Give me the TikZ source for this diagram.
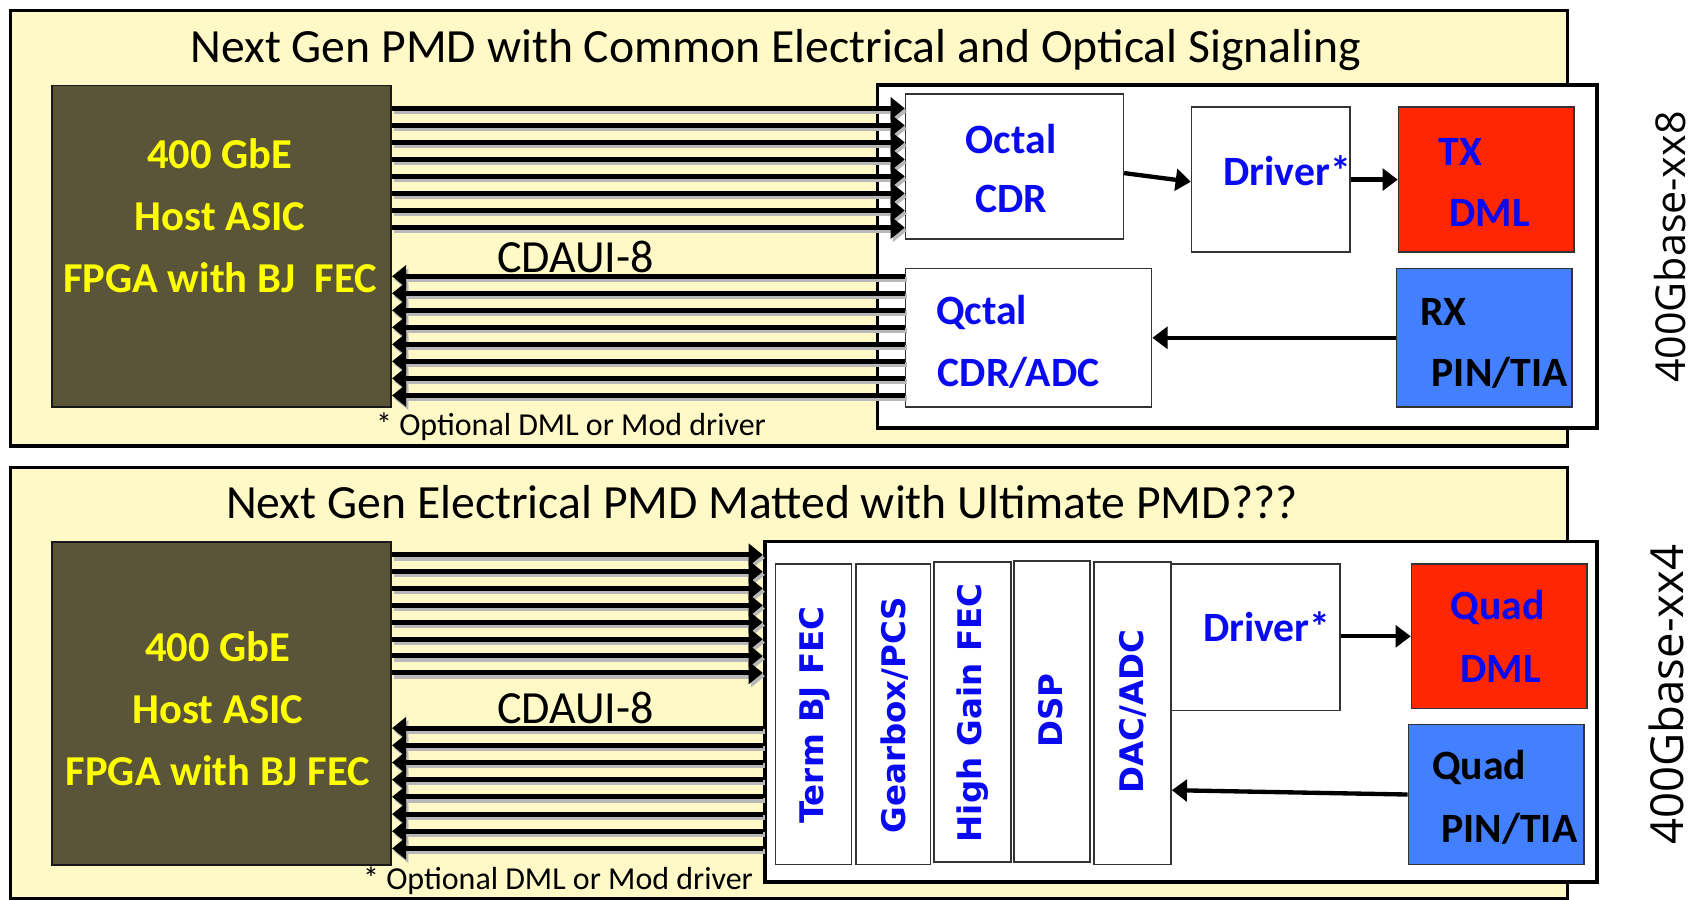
\documentclass[tikz,border=0pt]{standalone}
\usepackage{fontspec}
\setmainfont{Carlito}
\newfontfamily\osans{Open Sans}
\newfontfamily\dvs{DejaVu Sans}
\usetikzlibrary{arrows.meta,calc}
\definecolor{panelyellow}{RGB}{255,249,199}
\definecolor{hostolive}{RGB}{90,85,56}
\definecolor{txred}{RGB}{255,38,0}
\definecolor{rxblue}{RGB}{66,128,255}
\definecolor{txtblue}{RGB}{10,10,240}
\definecolor{txtyellow}{RGB}{255,255,0}
\tikzset{
 panel/.style={draw=black, line width=3pt, fill=panelyellow, anchor=north west, inner sep=0pt},
 hostbox/.style={draw=black!90, line width=1.8pt, fill=hostolive, anchor=north west, inner sep=0pt},
 pmdbox/.style={draw=black, line width=3.5pt, fill=white, anchor=north west, inner sep=0pt},
 blk/.style={draw=black!80, line width=1.5pt, fill=white, anchor=north west, inner sep=0pt},
 redblk/.style={blk, fill=txred},
 blueblk/.style={blk, fill=rxblue},
 titletxt/.style={font=\fontsize{44}{50}\selectfont, inner sep=0pt},
 plaintxt/.style={font=\fontsize{42.5}{48}\selectfont, inner sep=0pt},
 notetxt/.style={font=\fontsize{29.5}{32}\selectfont, inner sep=0pt},
 hosttxt/.style={text=txtyellow, font=\bfseries\fontsize{39.3}{57}\selectfont, align=center, inner sep=0pt},
 btxt/.style={text=txtblue, font=\bfseries\fontsize{38.5}{44}\selectfont, inner sep=0pt},
 ktxt/.style={text=black, font=\bfseries\fontsize{38.5}{44}\selectfont, inner sep=0pt},
 vtxt/.style={text=txtblue, font=\dvs\bfseries\fontsize{30}{34}\selectfont, rotate=90, inner sep=0pt},
 sidetxt/.style={font=\osans\fontsize{#1}{44}\selectfont, rotate=90, inner sep=0pt},
 bus/.style={line width=4.6pt, -{Triangle[length=13pt,width=20pt]}},
 busshadow/.style={bus, draw=black!28, fill=black!28},
 arr/.style={line width=4pt, -{Triangle[length=14pt,width=20pt]}},
}
\begin{document}
\begin{tikzpicture}[x=1pt,y=-1pt]
\useasboundingbox (0,0) rectangle (1568,830);
\fill[white] (0,0) rectangle (1568,830);

% ================= TOP PANEL =================
\node[panel, minimum width=1437, minimum height=402] (panel1) at (8,8) {};
\node[titletxt] (title1) at (716,46) {Next Gen PMD with Common Electrical and Optical Signaling};
\node[hostbox, minimum width=313, minimum height=297] (host1) at (47,78) {};
\node[hosttxt] (host1txt) at (203,199) {400 GbE\\Host ASIC\\FPGA with BJ~ FEC};
\node[pmdbox, minimum width=664, minimum height=316] (pmd1) at (808,77) {};
\node[blk, minimum width=201, minimum height=134] (cdr) at (835,86) {};
\node[btxt] (cdrtxt1) at (933,128) {Octal};
\node[btxt] (cdrtxt2) at (933,184) {CDR};
\node[blk, minimum width=146, minimum height=134] (drv1) at (1099,98) {};
\node[btxt] (drv1txt) at (1188,158) {Driver*};
\node[redblk, minimum width=162, minimum height=134] (tx) at (1290,98) {};
\node[btxt] (txtxt1) at (1348,140) {TX};
\node[btxt] (txtxt2) at (1375,197) {DML};
\node[blk, minimum width=227, minimum height=128] (cdradc) at (835,247) {};
\node[btxt] (cdradctxt1) at (906,288) {Qctal};
\node[btxt] (cdradctxt2) at (940,344) {CDR/ADC};
\node[blueblk, minimum width=162, minimum height=128] (rx) at (1288,247) {};
\node[ktxt] (rxtxt1) at (1332,288) {RX};
\node[ktxt] (rxtxt2) at (1384,344) {PIN/TIA};
\node[plaintxt] (cdaui1) at (531,237) {CDAUI-8};
\node[notetxt] (note1) at (527,394) {* Optional DML or Mod driver};
\node[sidetxt=38] (side1) at (1541,228) {400Gbase-xx8};

\foreach \y in {100,115.7,131.4,147.1,162.8,178.5,194.2,210} {
  \coordinate (p) at (0,\y);
  \draw[busshadow] ($(host1.east |- p)+(2,3)$) -- ($(cdr.west |- p)+(2,3)$);
}
\foreach \y in {100,115.7,131.4,147.1,162.8,178.5,194.2,210} {
  \coordinate (p) at (0,\y);
  \draw[bus] (host1.east |- p) -- (cdr.west |- p);
}
\foreach \y in {255,270.7,286.4,302.1,317.8,333.5,349.2,365} {
  \coordinate (p) at (0,\y);
  \draw[busshadow] ($(cdradc.west |- p)+(2,3)$) -- ($(host1.east |- p)+(2,3)$);
}
\foreach \y in {255,270.7,286.4,302.1,317.8,333.5,349.2,365} {
  \coordinate (p) at (0,\y);
  \draw[bus] (cdradc.west |- p) -- (host1.east |- p);
}
\draw[arr] ($(cdr.east)+(0,6)$) -- ($(drv1.west)+(0,2)$);
\draw[arr] (drv1.east) -- (tx.west);
\draw[arr] (rx.west) -- (cdradc.east |- rx.west);

% ================= BOTTOM PANEL =================
\node[panel, minimum width=1437, minimum height=398] (panel2) at (8,430) {};
\node[titletxt] (title2) at (703,463) {Next Gen Electrical PMD Matted with Ultimate PMD???};
\node[hostbox, minimum width=313, minimum height=298] (host2) at (47,499) {};
\node[hosttxt] (host2txt) at (201,654) {400 GbE\\Host ASIC\\FPGA with BJ FEC};
\node[pmdbox, minimum width=768, minimum height=314] (pmd2) at (704,498) {};
\node[blk, minimum width=70, minimum height=277] (term) at (715,520) {};
\node[vtxt] (termtxt) at (752,660) {Term BJ FEC};
\node[blk, minimum width=69, minimum height=277] (gear) at (789,520) {};
\node[vtxt] (geartxt) at (826,660) {Gearbox/PCS};
\node[blk, minimum width=71, minimum height=277] (hgfec) at (861,518) {};
\node[vtxt] (hgfectxt) at (898,658) {High Gain FEC};
\node[blk, minimum width=70, minimum height=278] (dsp) at (935,517) {};
\node[vtxt] (dsptxt) at (970,656) {DSP};
\node[blk, minimum width=71, minimum height=279] (dac) at (1009,518) {};
\node[vtxt] (dactxt) at (1046,657) {DAC/ADC};
\node[blk, minimum width=156, minimum height=135] (drv2) at (1080,520) {};
\node[btxt] (drv2txt) at (1169,578) {Driver*};
\node[redblk, minimum width=162, minimum height=133] (qdml) at (1302,520) {};
\node[btxt] (qdmltxt1) at (1382,561) {Quad};
\node[btxt] (qdmltxt2) at (1385,617) {DML};
\node[blueblk, minimum width=162, minimum height=129] (qpin) at (1299,668) {};
\node[ktxt] (qpintxt1) at (1365,708) {Quad};
\node[ktxt] (qpintxt2) at (1393,765) {PIN/TIA};
\node[plaintxt] (cdaui2) at (531,653) {CDAUI-8};
\node[notetxt] (note2) at (515,813) {* Optional DML or Mod driver};
\node[sidetxt=42] (side2) at (1538,641) {400Gbase-xx4};

\foreach \y in {512,527.6,543.1,558.7,574.3,589.9,605.4,621} {
  \coordinate (p) at (0,\y);
  \draw[busshadow] ($(host2.east |- p)+(2,3)$) -- ($(pmd2.west |- p)+(2,3)$);
}
\foreach \y in {512,527.6,543.1,558.7,574.3,589.9,605.4,621} {
  \coordinate (p) at (0,\y);
  \draw[bus] (host2.east |- p) -- (pmd2.west |- p);
}
\foreach \y in {672,687.9,703.7,719.6,735.4,751.3,767.1,783} {
  \coordinate (p) at (0,\y);
  \draw[busshadow] ($(pmd2.west |- p)+(2,3)$) -- ($(host2.east |- p)+(2,3)$);
}
\foreach \y in {672,687.9,703.7,719.6,735.4,751.3,767.1,783} {
  \coordinate (p) at (0,\y);
  \draw[bus] (pmd2.west |- p) -- (host2.east |- p);
}
\draw[arr] (drv2.east |- qdml.west) -- (qdml.west);
\draw[arr] (qpin.west) -- ($(dac.east |- qpin.west)+(0,-4)$);
\end{tikzpicture}
\end{document}
